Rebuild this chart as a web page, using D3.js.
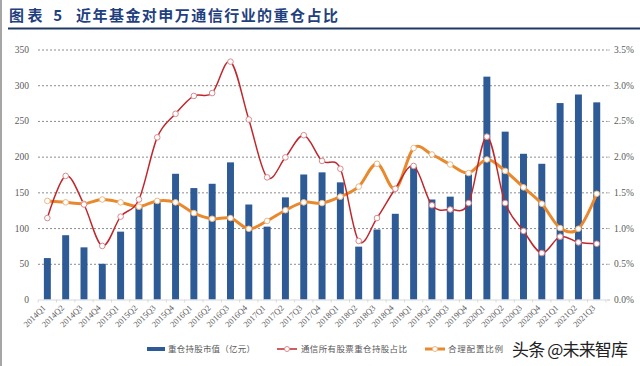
<!DOCTYPE html>
<html><head><meta charset="utf-8">
<script src="https://cdn.jsdelivr.net/npm/d3@7"></script>
<style>
html,body{margin:0;padding:0;background:#fff;}
svg{display:block;font-family:"Noto Sans CJK SC","Noto Sans",sans-serif;}
</style></head>
<body><svg id="c" width="640" height="366"></svg>
<script>
const categories = ["2014Q1","2014Q2","2014Q3","2014Q4","2015Q1","2015Q2","2015Q3","2015Q4","2016Q1","2016Q2","2016Q3","2016Q4","2017Q1","2017Q2","2017Q3","2017Q4","2018Q1","2018Q2","2018Q3","2018Q4","2019Q1","2019Q2","2019Q3","2019Q4","2020Q1","2020Q2","2020Q3","2020Q4","2021Q1","2021Q2","2021Q3"];
const marketValue = [58,90,73,50,95,130,136,176,156,162,192,133,102,143,175,178,164,74,98,120,186,140,144,175,312,235,204,190,275,287,276];
const holdingPct = [1.14,1.73,1.33,0.75,1.16,1.40,2.27,2.60,2.85,2.89,3.33,2.52,1.71,1.99,2.30,1.94,1.83,0.82,1.14,1.55,1.87,1.32,1.26,1.35,2.28,1.35,0.96,0.65,0.88,0.80,0.78];
const reasonablePct = [1.38,1.36,1.34,1.40,1.36,1.30,1.38,1.36,1.21,1.13,1.14,0.99,1.10,1.25,1.36,1.35,1.44,1.58,1.90,1.55,2.12,2.03,1.89,1.77,1.96,1.80,1.57,1.34,1.00,0.99,1.48];
const leftTicks = [0,50,100,150,200,250,300,350];
const rightTicks = [0,0.5,1.0,1.5,2.0,2.5,3.0,3.5];
const legendLabels = ["重仓持股市值（亿元）","通信所有股票重仓持股占比","合理配置比例"];
const titleText = ["图表 5","近年基金对申万通信行业的重仓占比"];
const watermark = "头条 @未来智库";

const svg = d3.select("#c");
const C = {bar:"#2E5B96", red:"#C0272D", redMk:"#D98A8E", orange:"#E8892E", orangeMk:"#E9B98A", grid:"#8c8c8c", text:"#595959", title:"#1F3F7E"};

// left page border
svg.append("line").attr("x1",1).attr("x2",1).attr("y1",0).attr("y2",366).attr("stroke","#a6a6a6").attr("stroke-width",2);

// title
svg.append("text").attr("x",9).attr("y",21).attr("fill",C.title).attr("font-size",15).attr("font-weight","bold")
  .attr("textLength",53).attr("lengthAdjust","spacing").text(titleText[0]);
svg.append("text").attr("x",76).attr("y",21).attr("fill",C.title).attr("font-size",15).attr("font-weight","bold")
  .attr("textLength",262).attr("lengthAdjust","spacing").text(titleText[1]);
svg.append("line").attr("x1",8).attr("x2",640).attr("y1",28.5).attr("y2",28.5).attr("stroke","#1F3864").attr("stroke-width",2);

const x = d3.scaleBand().domain(categories).range([38.2,605.9]).paddingInner(0.62).paddingOuter(0.31);
const yL = d3.scaleLinear().domain([0,350]).range([299.5,49.5]);
const yR = d3.scaleLinear().domain([0,3.5]).range([299.5,49.5]);
const x0 = 38, x1 = 607;

// gridlines
const grid = svg.append("g").attr("transform",`translate(${x0},0)`)
  .call(d3.axisLeft(yL).tickValues(leftTicks.filter(d=>d>0)).tickSize(-(x1-x0)).tickFormat(""));
grid.select(".domain").remove();
grid.selectAll("line").attr("stroke",C.grid).attr("stroke-dasharray","2,2").attr("stroke-width",1);

// left axis labels
const gl = svg.append("g").attr("transform",`translate(29,0)`)
  .call(d3.axisLeft(yL).tickValues(leftTicks).tickSize(0).tickPadding(0).tickFormat(d3.format("d")));
gl.select(".domain").remove();
gl.selectAll("text").attr("fill",C.text).attr("font-size",9.5).attr("font-family","Liberation Serif, DejaVu Serif, serif");

// right axis labels
const gr = svg.append("g").attr("transform",`translate(${x1},0)`)
  .call(d3.axisRight(yR).tickValues(rightTicks).tickSize(3).tickPadding(4).tickFormat(d=>d.toFixed(1)+"%"));
gr.select(".domain").remove();
gr.selectAll("line").attr("stroke","#bfbfbf");
gr.selectAll("text").attr("fill",C.text).attr("font-size",9.5).attr("font-family","Liberation Serif, DejaVu Serif, serif");

// bars
svg.append("g").selectAll("rect").data(categories).join("rect")
  .attr("x",d=>x(d)).attr("width",x.bandwidth())
  .attr("y",(d,i)=>yL(marketValue[i])).attr("height",(d,i)=>yL(0)-yL(marketValue[i]))
  .attr("fill",C.bar);

// bottom axis
const gb = svg.append("g").attr("transform",`translate(0,${yL(0)})`)
  .call(d3.axisBottom(x).tickSize(0).tickPadding(0));
gb.select(".domain").attr("stroke","#d9d9d9");
gb.selectAll("text").attr("fill",C.text).attr("font-size",8.5).attr("font-family","Liberation Serif, DejaVu Serif, serif")
  .attr("text-anchor","end").attr("dy",0).attr("transform","translate(-1,9) rotate(-45)");
const step = x.step();
svg.append("g").selectAll("line").data(d3.range(categories.length+1)).join("line")
  .attr("x1",i=>x.range()[0]+i*step).attr("x2",i=>x.range()[0]+i*step)
  .attr("y1",yL(0)).attr("y2",yL(0)+3).attr("stroke","#d9d9d9");

// lines
const cx = (d,i)=>x(categories[i])+x.bandwidth()/2;
const lineR = d3.line().x(cx).y(d=>yR(d)).curve(d3.curveCatmullRom.alpha(0));
svg.append("path").datum(reasonablePct).attr("d",lineR).attr("fill","none").attr("stroke",C.orange).attr("stroke-width",3);
svg.append("path").datum(holdingPct).attr("d",lineR).attr("fill","none").attr("stroke",C.red).attr("stroke-width",1.5);
svg.append("g").selectAll("circle").data(reasonablePct).join("circle")
  .attr("cx",cx).attr("cy",d=>yR(d)).attr("r",2.8).attr("fill","#fff").attr("stroke",C.orangeMk).attr("stroke-width",1);
svg.append("g").selectAll("circle").data(holdingPct).join("circle")
  .attr("cx",cx).attr("cy",d=>yR(d)).attr("r",2.8).attr("fill","#fff").attr("stroke",C.redMk).attr("stroke-width",1);

// legend
const ly = 349;
const lg = svg.append("g").attr("font-size",8.5).attr("fill",C.text);
lg.append("rect").attr("x",147).attr("y",ly-2).attr("width",18).attr("height",4).attr("fill",C.bar);
lg.append("text").attr("x",168).attr("y",ly+3).attr("fill",C.text).attr("textLength",87).text(legendLabels[0]);
lg.append("line").attr("x1",277).attr("x2",297).attr("y1",ly).attr("y2",ly).attr("stroke",C.red).attr("stroke-width",1.5);
lg.append("circle").attr("cx",287).attr("cy",ly).attr("r",2.5).attr("fill","#fff").attr("stroke",C.redMk);
lg.append("text").attr("x",301).attr("y",ly+3).attr("fill",C.text).attr("textLength",106).text(legendLabels[1]);
lg.append("line").attr("x1",425).attr("x2",445).attr("y1",ly).attr("y2",ly).attr("stroke",C.orange).attr("stroke-width",3);
lg.append("circle").attr("cx",435).attr("cy",ly).attr("r",2.5).attr("fill","#fff").attr("stroke",C.orangeMk);
lg.append("text").attr("x",448).attr("y",ly+3).attr("fill",C.text).attr("textLength",55).text(legendLabels[2]);

// watermark
svg.append("text").attr("x",512).attr("y",356).attr("font-size",17).attr("fill","#222")
  .attr("textLength",116).attr("lengthAdjust","spacing").text(watermark);
</script></body></html>
